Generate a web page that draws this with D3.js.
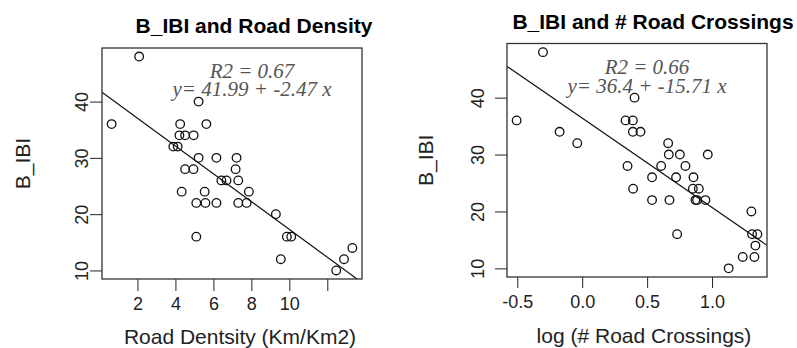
<meta charset="utf-8">
<html>
<head>
<style>
  body { margin: 0; background: #fff; }
  text { font-family: "Liberation Sans", Arial, sans-serif; }
  .eq { font-family: "Liberation Serif", "Times New Roman", serif; font-style: italic; }
</style>
</head>
<body>
<div id="chart"></div>
<script src="https://d3js.org/d3.v7.min.js"></script>
<script>
// ---- data ----
var roadDensity = [2.09, 0.64, 5.22, 4.25, 5.63, 4.21, 4.51, 4.96, 3.89, 4.12, 5.22, 6.16, 7.22,
                   4.51, 4.95, 7.17, 6.42, 6.69, 7.31, 4.33, 5.54, 7.87, 5.10, 5.58, 6.16,
                   7.31, 7.75, 9.29, 9.87, 10.10, 5.10, 9.55, 12.47, 12.88, 13.32];
var bibiDensity = [48, 36, 40, 36, 36, 34, 34, 34, 32, 32, 30, 30, 30,
                   28, 28, 28, 26, 26, 26, 24, 24, 24, 22, 22, 22,
                   22, 22, 20, 16, 16, 16, 12, 10, 12, 14];

var logCrossings = [-0.302, -0.505, -0.174, -0.038, 0.403, 0.334, 0.390, 0.390, 0.449, 0.349,
                    0.392, 0.538, 0.608, 0.662, 0.667, 0.752, 0.538, 0.672, 0.723, 0.795,
                    0.857, 0.852, 0.898, 0.872, 0.885, 0.949, 0.967, 0.731, 1.128, 1.236,
                    1.326, 1.303, 1.308, 1.349, 1.334];
var bibiCrossings = [48, 36, 34, 32, 40, 36, 36, 34, 34, 28,
                     24, 26, 28, 32, 30, 30, 22, 22, 26, 28,
                     26, 24, 24, 22, 22, 22, 30, 16, 10, 12,
                     12, 20, 16, 16, 14];

var yTicks = [10, 20, 30, 40];
var xTicksDensity = [2, 4, 6, 8, 10, 12];
var xTickLabelsDensity = ["2", "4", "6", "8", "10", ""];
var xTicksCrossings = [-0.5, 0, 0.5, 1];
var xTickLabelsCrossings = ["-0.5", "0.0", "0.5", "1.0"];

var fitDensity = [41.99, -2.47];   // intercept, slope
var fitCrossings = [36.4, -15.71];
var r2Density = "0.67", r2Crossings = "0.66";
var eqDensity = "y= 41.99 + -2.47 x", eqCrossings = "y= 36.4 + -15.71 x";

var svg = d3.select("#chart").append("svg")
    .attr("width", 797).attr("height", 348);

// R style axis range: data extent padded by 4%
function rRange(v) {
  var e = d3.extent(v), p = (e[1] - e[0]) * 0.04;
  return [e[0] - p, e[1] + p];
}

function panel(o) {
  var x = d3.scaleLinear().domain(rRange(o.xs)).range([o.left, o.right]);
  var y = d3.scaleLinear().domain(rRange(o.ys)).range([o.bottom, o.top]);
  var g = svg.append("g");

  g.append("clipPath").attr("id", o.id)
    .append("rect").attr("x", o.left).attr("y", o.top)
    .attr("width", o.right - o.left).attr("height", o.bottom - o.top);

  // title
  g.append("text").attr("x", o.titleX).attr("y", o.titleY)
    .attr("text-anchor", "middle").attr("font-size", 21).attr("font-weight", "bold")
    .text(o.title);

  // x axis
  var ax = g.append("g").attr("transform", "translate(0," + o.bottom + ")")
    .call(d3.axisBottom(x).tickValues(o.xTicks).tickSize(o.tickLen).tickSizeOuter(0)
      .tickFormat(function(d, i) { return o.xLabels[i]; }));
  ax.select(".domain").remove();
  ax.selectAll("line").attr("stroke", "#222");
  ax.selectAll("text").attr("y", o.xLabOff).attr("dy", null)
    .attr("font-size", 18).attr("fill", "#222")
    .style("font-family", "'Liberation Sans', Arial, sans-serif");

  // y axis
  var ay = g.append("g").attr("transform", "translate(" + o.left + ",0)")
    .call(d3.axisLeft(y).tickValues(yTicks).tickSize(12).tickSizeOuter(0));
  ay.select(".domain").remove();
  ay.selectAll("line").attr("stroke", "#222");
  ay.selectAll("text").attr("x", null).attr("dy", null)
    .attr("text-anchor", "middle").attr("font-size", 18).attr("fill", "#222")
    .style("font-family", "'Liberation Sans', Arial, sans-serif")
    .attr("transform", "translate(" + (-o.yLabOff) + ",0) rotate(-90)");

  // axis titles
  g.append("text").attr("x", o.xTitleX).attr("y", o.xTitleY)
    .attr("text-anchor", "middle").attr("font-size", 21).attr("fill", "#222").text(o.xTitle);
  g.append("text")
    .attr("transform", "translate(" + o.yTitleX + "," + (o.top + o.bottom) / 2 + ") rotate(-90)")
    .attr("text-anchor", "middle").attr("font-size", 21).attr("fill", "#222").text("B_IBI");

  // regression line (abline)
  var dx = x.domain();
  g.append("line").attr("clip-path", "url(#" + o.id + ")")
    .attr("x1", x(dx[0])).attr("y1", y(o.fit[0] + o.fit[1] * dx[0]))
    .attr("x2", x(dx[1])).attr("y2", y(o.fit[0] + o.fit[1] * dx[1]))
    .attr("stroke", "#111").attr("stroke-width", 1.2);

  // points
  g.selectAll("circle.pt").data(o.xs).enter().append("circle")
    .attr("class", "pt")
    .attr("cx", function(d) { return x(d); })
    .attr("cy", function(d, i) { return y(o.ys[i]); })
    .attr("r", 4.3).attr("fill", "none").attr("stroke", "#111").attr("stroke-width", 1.3);

  // equation text
  g.append("text").attr("class", "eq").attr("x", o.eqX).attr("y", o.eqY1)
    .attr("text-anchor", "middle").attr("font-size", 21).attr("fill", "#555")
    .text("R2 = " + o.r2);
  g.append("text").attr("class", "eq").attr("x", o.eqX).attr("y", o.eqY2)
    .attr("text-anchor", "middle").attr("font-size", 21).attr("fill", "#555")
    .text(o.eq);

  // box
  g.append("rect").attr("x", o.left).attr("y", o.top)
    .attr("width", o.right - o.left).attr("height", o.bottom - o.top)
    .attr("fill", "none").attr("stroke", "#333").attr("stroke-width", 1.3);
}

panel({
  id: "clipL", xs: roadDensity, ys: bibiDensity,
  left: 102, right: 362, top: 48, bottom: 279, tickLen: 12,
  xTicks: xTicksDensity, xLabels: xTickLabelsDensity, xLabOff: 30.5, yLabOff: 14,
  title: "B_IBI and Road Density", titleX: 254, titleY: 33,
  xTitle: "Road Dentsity (Km/Km2)", xTitleX: 240, xTitleY: 344, yTitleX: 30,
  fit: fitDensity, r2: r2Density, eq: eqDensity, eqX: 252, eqY1: 78, eqY2: 96
});

panel({
  id: "clipR", xs: logCrossings, ys: bibiCrossings,
  left: 507, right: 767, top: 43.5, bottom: 277, tickLen: 11,
  xTicks: xTicksCrossings, xLabels: xTickLabelsCrossings, xLabOff: 31, yLabOff: 23,
  title: "B_IBI and # Road Crossings", titleX: 653, titleY: 29,
  xTitle: "log (# Road Crossings)", xTitleX: 644, xTitleY: 343, yTitleX: 433,
  fit: fitCrossings, r2: r2Crossings, eq: eqCrossings, eqX: 647, eqY1: 74, eqY2: 93
});
</script>
</body>
</html>
